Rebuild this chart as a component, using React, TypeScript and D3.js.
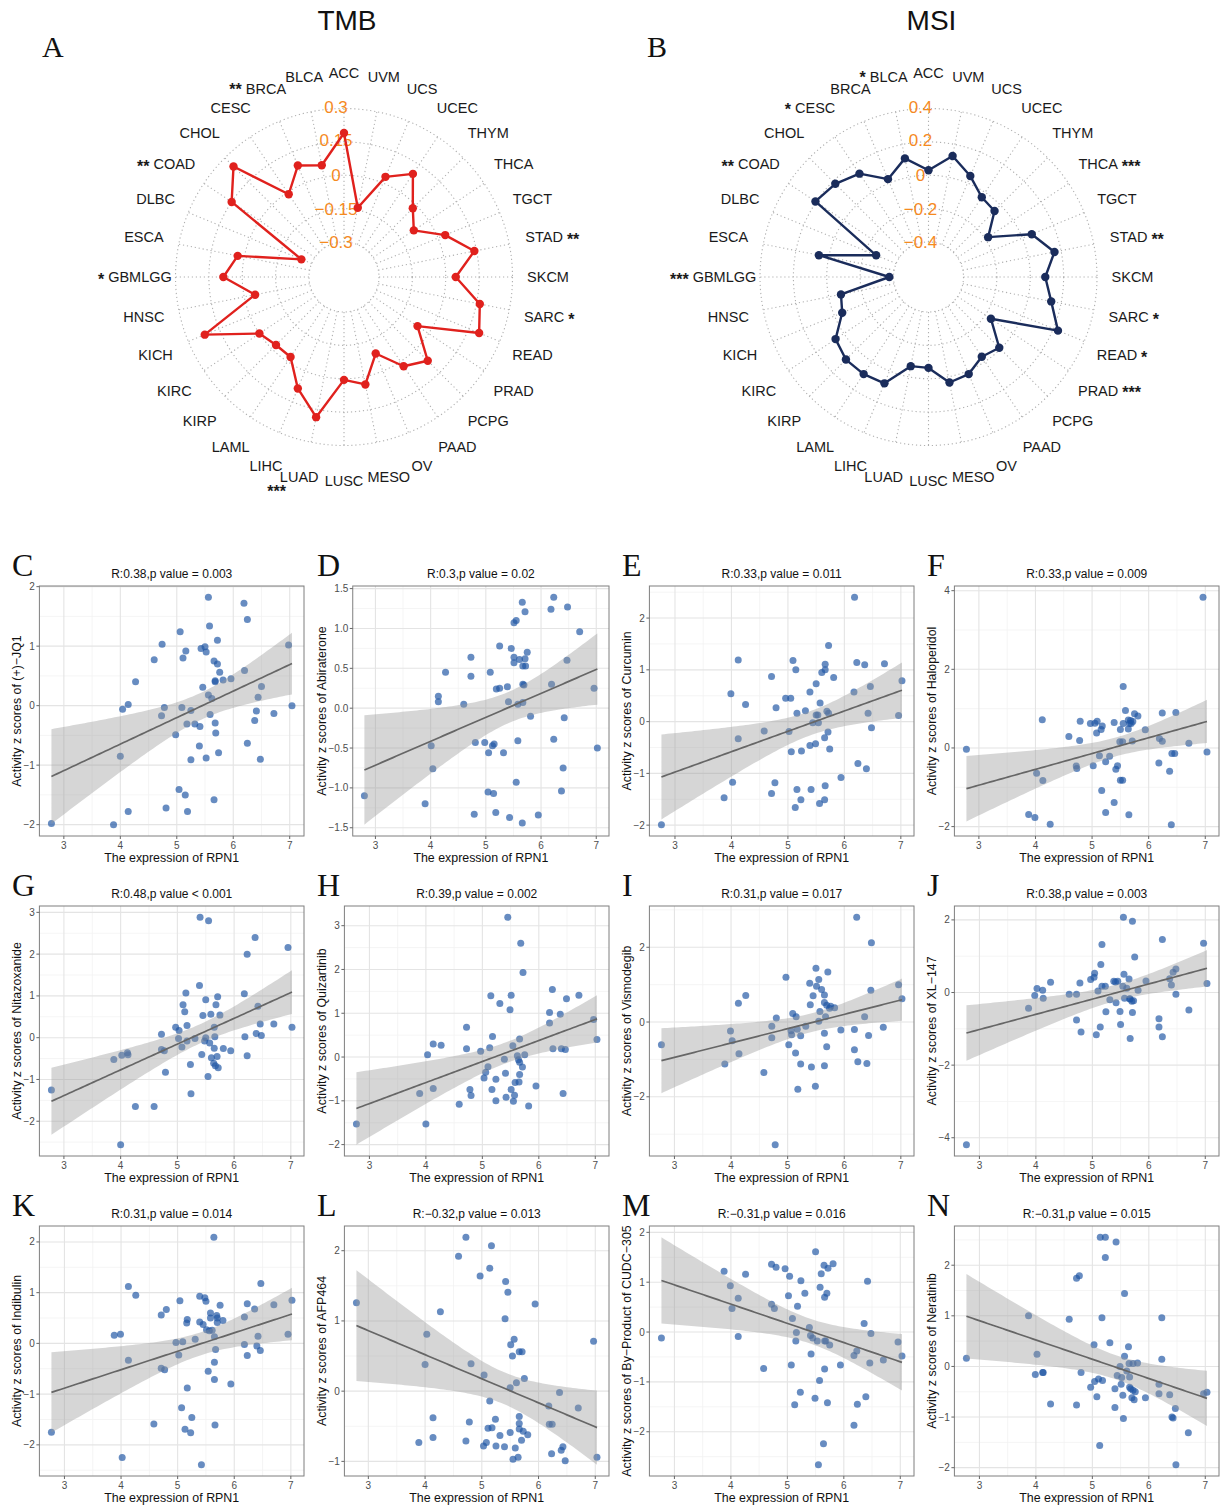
import React, { useEffect, useRef } from "react";
import * as d3 from "d3";

const SANS = '"Liberation Sans", Arial, Helvetica, sans-serif';
const SERIF = '"Liberation Serif", "Times New Roman", serif';

// ---- radar data (clockwise from top) ----
const cancers = [
  "ACC", "UVM", "UCS", "UCEC", "THYM", "THCA", "TGCT", "STAD", "SKCM", "SARC", "READ",
  "PRAD", "PCPG", "PAAD", "OV", "MESO", "LUSC", "LUAD", "LIHC", "LAML", "KIRP", "KIRC",
  "KICH", "HNSC", "GBMLGG", "ESCA", "DLBC", "COAD", "CHOL", "CESC", "BRCA", "BLCA",
];
const tmbCor = [
  0.19, -0.14, 0.03, 0.1, -0.02, -0.08, 0.035, 0.14, 0.045, 0.165, 0.2,
  -0.06, 0.075, 0.025, -0.085, 0.035, 0.005, 0.185, 0.085, -0.025, -0.025, 0.0,
  0.22, -0.05, 0.085, 0.03, -0.25, 0.15, 0.245, -0.01, 0.085, 0.055,
];
const msiCor = [
  0.03, 0.13, 0.045, -0.035, -0.05, -0.18, 0.06, 0.16, 0.09, 0.14, 0.23,
  -0.16, -0.01, -0.035, 0.02, 0.035, -0.065, -0.065, 0.08, 0.09, 0.09, 0.06,
  -0.05, -0.075, -0.375, 0.06, -0.27, 0.205, 0.18, 0.135, 0.025, 0.115,
];
const tmbSig: Record<string, string> = { BRCA: "**", COAD: "**", GBMLGG: "*", STAD: "**", SARC: "*", LUAD: "***" };
const msiSig: Record<string, string> = {
  BLCA: "*", CESC: "*", COAD: "**", GBMLGG: "***", THCA: "***", STAD: "**", SARC: "*", READ: "*", PRAD: "***",
};
const tmbTicks = [-0.3, -0.15, 0, 0.15, 0.3];
const tmbTickLabels = ["−0.3", "−0.15", "0", "0.15", "0.3"];
const msiTicks = [-0.4, -0.2, 0, 0.2, 0.4];
const msiTickLabels = ["−0.4", "−0.2", "0", "0.2", "0.4"];

// ---- scatter data: [RPN1 expression, activity z score] ----
const ptsC = [[2.78,-1.98],[3.88,-2.0],[4.0,-0.85],[4.04,-0.06],[4.14,0.02],[4.14,-1.78],[4.27,0.4],[4.6,0.77],[4.74,1.03],[4.73,-0.17],[4.78,-0.03],[4.81,-1.72],[4.98,-0.49],[5.04,-1.41],[5.06,1.24],[5.09,-0.03],[5.11,0.8],[5.15,-1.5],[5.16,0.92],[5.18,-0.31],[5.19,-1.78],[5.25,-0.08],[5.25,-0.91],[5.32,-0.31],[5.4,-0.68],[5.41,-0.35],[5.43,0.96],[5.46,0.31],[5.5,0.99],[5.52,0.9],[5.52,-0.88],[5.56,0.18],[5.56,1.82],[5.58,1.34],[5.59,-0.15],[5.62,0.12],[5.66,-1.58],[5.66,0.75],[5.68,0.42],[5.68,0.4],[5.68,-0.29],[5.69,-0.46],[5.72,0.7],[5.72,1.1],[5.74,-0.79],[5.76,0.56],[5.82,0.43],[5.96,0.45],[6.2,0.59],[6.19,1.72],[6.25,-0.63],[6.25,1.45],[6.38,-0.25],[6.41,-0.09],[6.44,0.14],[6.48,-0.9],[6.5,0.32],[6.72,-0.13],[6.98,1.02],[7.04,0.0]];
const ptsD = [[2.8,-1.1],[3.9,-1.2],[4.01,-0.47],[4.04,-0.76],[4.14,0.15],[4.14,0.08],[4.27,0.45],[4.6,0.05],[4.73,0.64],[4.73,0.4],[4.79,-1.33],[4.81,-0.43],[4.98,-0.43],[5.04,-1.05],[5.05,-0.56],[5.08,0.45],[5.12,-0.47],[5.15,-0.45],[5.14,-1.07],[5.18,-1.31],[5.19,0.24],[5.25,0.25],[5.25,0.78],[5.32,-0.56],[5.39,0.27],[5.41,0.08],[5.43,-1.37],[5.46,0.75],[5.51,0.57],[5.51,0.64],[5.51,1.07],[5.55,1.1],[5.55,-0.93],[5.58,0.05],[5.58,-0.41],[5.61,0.61],[5.66,1.33],[5.66,-1.44],[5.67,0.07],[5.67,0.53],[5.67,0.3],[5.69,0.29],[5.71,0.62],[5.72,0.53],[5.71,1.21],[5.75,0.7],[5.81,-0.1],[5.95,-1.34],[6.18,1.24],[6.19,0.3],[6.23,1.39],[6.23,-0.39],[6.37,-1.04],[6.4,-0.75],[6.42,-0.12],[6.47,0.6],[6.48,1.27],[6.7,0.96],[6.96,0.25],[7.02,-0.5]];
const ptsE = [[2.76,-1.99],[3.87,-1.47],[3.99,0.54],[4.02,-1.17],[4.12,1.19],[4.12,-0.33],[4.25,0.33],[4.58,-0.18],[4.71,0.87],[4.71,-1.39],[4.77,-1.18],[4.79,0.27],[4.96,0.45],[5.02,-0.19],[5.05,0.45],[5.06,-0.58],[5.09,1.18],[5.13,-1.66],[5.14,1.0],[5.16,0.16],[5.16,-1.31],[5.23,-1.51],[5.24,-0.57],[5.31,0.21],[5.39,-0.46],[5.39,0.57],[5.41,-1.31],[5.44,-0.02],[5.49,-0.43],[5.5,0.73],[5.5,0.13],[5.53,0.13],[5.54,-0.02],[5.56,-1.58],[5.57,0.36],[5.6,0.95],[5.65,-0.31],[5.65,-1.51],[5.66,-1.24],[5.66,1.0],[5.66,1.11],[5.69,0.2],[5.71,-0.2],[5.72,0.16],[5.72,1.47],[5.74,-0.53],[5.81,0.85],[5.94,-1.08],[6.17,0.57],[6.18,2.4],[6.22,1.14],[6.24,-0.81],[6.36,1.1],[6.39,-0.91],[6.42,0.16],[6.46,0.68],[6.48,-0.12],[6.71,1.12],[6.96,0.12],[7.02,0.79]];
const ptsF = [[2.78,-0.03],[3.88,-1.69],[3.99,-1.77],[4.02,-0.64],[4.12,0.72],[4.13,-0.83],[4.26,-1.94],[4.59,0.29],[4.72,-0.46],[4.73,-0.52],[4.78,0.19],[4.79,0.68],[4.97,0.62],[5.02,-0.45],[5.05,0.63],[5.08,0.38],[5.09,0.68],[5.13,-0.2],[5.16,0.47],[5.18,0.56],[5.17,-1.08],[5.24,-0.35],[5.24,-1.64],[5.31,-0.21],[5.39,-1.39],[5.39,0.65],[5.42,-0.54],[5.45,-0.45],[5.49,0.16],[5.5,0.47],[5.5,-0.82],[5.54,0.16],[5.54,-0.82],[5.55,0.62],[5.55,1.56],[5.59,0.95],[5.64,0.71],[5.64,0.48],[5.65,-1.7],[5.66,0.62],[5.68,0.7],[5.69,0.62],[5.71,0.18],[5.72,0.67],[5.75,0.87],[5.81,0.81],[5.94,0.46],[6.18,-0.38],[6.19,0.24],[6.24,0.17],[6.24,0.89],[6.37,-0.59],[6.4,-1.95],[6.41,-0.14],[6.46,-0.14],[6.48,0.9],[6.71,0.12],[6.96,3.83],[7.03,-0.1]];
const ptsG = [[2.78,-1.25],[3.88,-0.52],[4.02,-0.42],[4.12,-0.36],[4.13,-0.41],[4.0,-2.56],[4.26,-1.65],[4.59,-1.65],[4.72,0.08],[4.72,-0.28],[4.77,-0.31],[4.79,-0.83],[4.97,0.25],[5.02,-0.02],[5.03,0.17],[5.08,-0.22],[5.1,0.79],[5.13,0.62],[5.15,1.07],[5.17,0.29],[5.17,-0.08],[5.23,-0.64],[5.24,-1.34],[5.31,-0.02],[5.39,1.25],[5.4,2.88],[5.43,-0.4],[5.45,0.53],[5.48,-0.08],[5.5,0.91],[5.5,0.0],[5.54,-0.93],[5.55,2.8],[5.57,-0.13],[5.59,0.56],[5.6,-0.48],[5.65,0.25],[5.66,0.02],[5.65,-0.25],[5.64,-0.61],[5.67,-0.67],[5.68,0.79],[5.7,-0.45],[5.71,0.98],[5.72,-0.72],[5.75,0.54],[5.81,-0.26],[5.94,-0.31],[6.18,1.05],[6.19,0.02],[6.23,2.0],[6.23,-0.43],[6.37,2.4],[6.39,0.1],[6.42,0.75],[6.46,0.33],[6.48,0.05],[6.7,0.33],[6.95,2.16],[7.02,0.25]];
const ptsH = [[2.77,-1.53],[3.89,-0.83],[4.0,-1.53],[4.03,0.05],[4.13,0.3],[4.13,-0.72],[4.27,0.27],[4.59,-1.08],[4.72,0.68],[4.72,0.19],[4.78,-0.74],[4.8,-0.88],[4.97,0.13],[5.03,-0.48],[5.06,-0.35],[5.1,-0.22],[5.13,0.21],[5.15,1.4],[5.17,-0.74],[5.18,0.47],[5.24,-0.51],[5.24,-1.0],[5.31,1.22],[5.39,-0.05],[5.41,-0.37],[5.42,-0.92],[5.45,3.19],[5.49,1.08],[5.51,1.41],[5.51,-0.74],[5.54,0.26],[5.55,-1.01],[5.57,-0.87],[5.58,-0.58],[5.62,0.03],[5.64,-0.06],[5.66,0.41],[5.66,-0.4],[5.65,-0.57],[5.66,-0.12],[5.68,2.6],[5.72,1.93],[5.71,-0.23],[5.75,0.05],[5.82,-1.12],[5.95,-0.66],[6.19,0.78],[6.19,1.02],[6.24,1.54],[6.25,0.19],[6.38,0.98],[6.4,0.19],[6.43,-0.83],[6.47,0.17],[6.49,1.33],[6.71,1.41],[6.97,0.86],[7.03,0.4]];
const ptsI = [[2.77,-0.61],[3.89,-1.12],[3.99,-0.24],[4.02,-0.5],[4.13,0.5],[4.14,-0.85],[4.26,0.71],[4.58,-1.35],[4.72,-0.11],[4.72,-0.42],[4.8,0.11],[4.78,-3.28],[4.97,1.2],[5.02,-0.61],[5.06,-0.23],[5.07,-0.34],[5.09,0.23],[5.14,-0.83],[5.15,0.14],[5.17,-0.19],[5.18,-1.8],[5.23,-1.12],[5.23,-0.37],[5.32,-0.11],[5.39,1.04],[5.4,0.46],[5.42,-1.2],[5.45,0.7],[5.49,-1.72],[5.5,1.44],[5.51,0.96],[5.55,1.14],[5.55,0.02],[5.57,0.28],[5.6,0.87],[5.65,0.72],[5.65,0.52],[5.65,-0.3],[5.65,-1.17],[5.67,0.14],[5.69,-0.66],[5.69,0.45],[5.71,1.34],[5.74,0.37],[5.76,0.42],[5.83,0.38],[5.94,-0.21],[6.18,-0.2],[6.18,-0.74],[6.22,2.8],[6.24,-1.06],[6.36,0.14],[6.4,-1.11],[6.43,-0.36],[6.47,0.85],[6.48,2.12],[6.69,-0.14],[6.96,1.0],[7.02,0.62]];
const ptsJ = [[2.77,-4.19],[3.87,-0.43],[3.98,-0.08],[4.02,0.11],[4.12,0.06],[4.13,-0.16],[4.26,0.28],[4.59,-0.05],[4.72,-0.05],[4.72,-0.76],[4.78,0.26],[4.8,-1.09],[4.97,0.36],[5.03,0.42],[5.04,0.53],[5.07,-1.16],[5.1,0.04],[5.14,-0.95],[5.15,0.77],[5.17,1.32],[5.17,0.17],[5.23,0.17],[5.24,-0.53],[5.31,-0.2],[5.38,0.31],[5.41,0.29],[5.42,-0.28],[5.45,0.31],[5.49,-0.52],[5.5,-0.88],[5.54,0.17],[5.56,0.5],[5.55,2.07],[5.57,-0.16],[5.61,0.12],[5.65,0.37],[5.66,-0.17],[5.67,-1.27],[5.67,-0.18],[5.7,-0.24],[5.71,1.96],[5.71,-0.55],[5.73,-0.23],[5.75,0.98],[5.81,0.06],[5.95,0.32],[6.18,-0.72],[6.18,-0.95],[6.24,-1.22],[6.24,1.46],[6.37,0.38],[6.4,0.21],[6.43,0.56],[6.48,-0.05],[6.48,0.65],[6.71,-0.48],[6.97,1.36],[7.03,0.25]];
const ptsK = [[2.77,-1.75],[3.88,0.16],[3.99,0.18],[4.02,-2.25],[4.13,1.12],[4.13,-0.33],[4.26,0.95],[4.58,-1.59],[4.71,0.56],[4.71,-0.49],[4.77,-0.52],[4.8,0.67],[4.97,0.02],[5.02,-0.23],[5.04,0.84],[5.07,-1.27],[5.09,0.03],[5.13,-1.69],[5.16,0.4],[5.17,0.47],[5.17,-0.88],[5.23,-1.76],[5.25,-1.46],[5.31,0.08],[5.39,0.42],[5.39,0.93],[5.42,-2.39],[5.45,0.37],[5.48,0.9],[5.5,0.83],[5.51,0.27],[5.54,-0.55],[5.56,0.25],[5.58,0.6],[5.58,0.5],[5.61,0.26],[5.64,2.09],[5.65,0.13],[5.65,-0.37],[5.65,-0.71],[5.66,-1.61],[5.67,-0.12],[5.69,0.55],[5.7,0.5],[5.7,0.41],[5.75,0.75],[5.8,0.45],[5.94,-0.8],[6.18,0.52],[6.18,-0.02],[6.23,0.78],[6.23,-0.24],[6.36,0.68],[6.4,-0.05],[6.42,0.14],[6.46,-0.14],[6.47,1.18],[6.7,0.76],[6.95,0.18],[7.02,0.85]];
const ptsL = [[2.79,1.26],[3.89,-0.73],[4.0,0.38],[4.03,0.81],[4.14,-0.38],[4.14,-0.66],[4.27,1.13],[4.59,1.92],[4.72,2.19],[4.72,-0.71],[4.78,-0.44],[4.81,0.39],[4.97,1.64],[5.04,0.23],[5.03,-0.78],[5.08,-0.73],[5.11,-0.53],[5.14,1.75],[5.14,-0.14],[5.17,2.07],[5.18,-0.52],[5.24,-0.4],[5.25,-0.78],[5.32,-0.63],[5.41,1.03],[5.42,1.56],[5.4,-0.79],[5.46,1.41],[5.5,-0.59],[5.5,0.05],[5.51,0.66],[5.54,0.5],[5.55,-0.97],[5.57,0.74],[5.59,-0.81],[5.61,0.12],[5.66,0.56],[5.66,-0.36],[5.66,-0.46],[5.66,-0.54],[5.64,-0.94],[5.7,-0.7],[5.71,0.56],[5.73,-0.57],[5.75,0.18],[5.81,-0.62],[5.94,1.24],[6.18,-0.21],[6.19,-0.47],[6.24,-0.47],[6.23,-0.89],[6.37,-0.02],[6.4,-0.84],[6.43,-0.79],[6.47,-0.99],[6.7,-0.24],[6.97,0.71],[7.03,-0.94]];
const ptsM = [[2.77,-0.12],[3.88,1.22],[3.99,0.93],[4.02,0.47],[4.13,0.68],[4.13,-0.09],[4.26,1.16],[4.58,-0.73],[4.72,1.36],[4.72,0.56],[4.77,0.47],[4.8,1.3],[4.96,1.27],[5.02,0.73],[5.04,1.12],[5.07,-0.66],[5.09,0.27],[5.13,-1.46],[5.15,-0.18],[5.16,-0.01],[5.18,0.52],[5.23,-1.21],[5.24,1.03],[5.31,0.78],[5.39,0.09],[5.41,-0.07],[5.42,-0.44],[5.45,-0.12],[5.49,-1.33],[5.5,1.61],[5.53,-0.18],[5.57,-0.97],[5.58,0.9],[5.6,1.17],[5.64,-2.24],[5.65,1.34],[5.66,0.7],[5.66,-0.18],[5.66,-0.74],[5.68,-0.18],[5.7,0.78],[5.71,-1.42],[5.72,1.28],[5.55,-2.66],[5.75,-0.26],[5.81,1.37],[5.94,-0.66],[6.18,-0.47],[6.18,-1.87],[6.23,-0.38],[6.24,-1.45],[6.36,0.17],[6.39,-1.3],[6.42,1.02],[6.46,-0.62],[6.48,-0.03],[6.7,-0.56],[6.96,-0.2],[7.03,-0.48]];
const ptsN = [[2.77,0.16],[3.87,1.0],[3.99,-0.16],[4.02,0.24],[4.12,-0.12],[4.13,-0.12],[4.26,-0.74],[4.59,0.93],[4.72,1.74],[4.77,1.79],[4.72,-0.76],[4.8,-0.12],[4.97,-0.41],[5.03,0.43],[5.04,-0.3],[5.08,-0.6],[5.11,-0.25],[5.13,-1.56],[5.14,2.55],[5.17,0.96],[5.18,-0.28],[5.23,2.55],[5.23,2.15],[5.31,0.47],[5.4,-0.44],[5.4,-0.81],[5.42,2.46],[5.44,-0.18],[5.49,0.0],[5.51,-0.35],[5.52,-0.22],[5.54,-0.57],[5.55,-1.03],[5.57,1.44],[5.57,0.2],[5.61,-0.09],[5.64,0.39],[5.65,0.06],[5.66,-0.21],[5.66,-0.41],[5.68,-0.44],[5.7,-0.62],[5.72,0.06],[5.72,-0.47],[5.74,-0.66],[5.76,-0.5],[5.8,0.07],[5.94,-0.62],[6.18,-0.35],[6.18,-0.54],[6.23,0.96],[6.23,0.14],[6.37,-0.56],[6.41,-1.0],[6.43,-1.02],[6.47,-0.83],[6.48,-1.94],[6.7,-1.31],[6.97,-0.54],[7.03,-0.51]];

const panelLetters = ["C", "D", "E", "F", "G", "H", "I", "J", "K", "L", "M", "N"];
const drugNames = [
  "(+)−JQ1", "Abiraterone", "Curcumin", "Haloperidol", "Nitazoxanide", "Quizartinib",
  "Vismodegib", "XL−147", "Indibulin", "AFP464", "By−Product of CUDC−305", "Neratinib",
];
const statLabels = [
  "R:0.38,p value = 0.003", "R:0.3,p value = 0.02", "R:0.33,p value = 0.011", "R:0.33,p value = 0.009",
  "R:0.48,p value < 0.001", "R:0.39,p value = 0.002", "R:0.31,p value = 0.017", "R:0.38,p value = 0.003",
  "R:0.31,p value = 0.014", "R:−0.32,p value = 0.013", "R:−0.31,p value = 0.016", "R:−0.31,p value = 0.015",
];
const yTickSets = [
  [-2, -1, 0, 1, 2], [-1.5, -1, -0.5, 0, 0.5, 1, 1.5], [-2, -1, 0, 1, 2], [-2, 0, 2, 4],
  [-2, -1, 0, 1, 2, 3], [-2, -1, 0, 1, 2, 3], [-2, 0, 2], [-4, -2, 0, 2],
  [-2, -1, 0, 1, 2], [-1, 0, 1, 2], [-2, -1, 0, 1, 2], [-2, -1, 0, 1, 2],
];
const xTicks = [3, 4, 5, 6, 7];
const allPts = [ptsC, ptsD, ptsE, ptsF, ptsG, ptsH, ptsI, ptsJ, ptsK, ptsL, ptsM, ptsN];

const colX = [0, 305, 610, 915];
const rowY = [573, 893, 1213];

const measureCtx = document.createElement("canvas").getContext("2d");
const textW = (s: string, size: number) => {
  if (!measureCtx) return s.length * size * 0.55;
  measureCtx.font = `${size}px ${SANS}`;
  return measureCtx.measureText(s).width;
};

function drawRadar(svg: any, cx: number, cy: number, values: number[], sig: Record<string, string>,
  ticks: number[], tickLabels: string[], color: string, title: string, letter: string, letterX: number) {
  const g = svg.append("g");
  const r = d3.scaleLinear().domain([ticks[0], ticks[ticks.length - 1]]).range([35, 168.5]);
  const n = cancers.length;
  const ang = (i: number) => (i / n) * 2 * Math.PI;

  // rings and spokes
  ticks.forEach((t) => {
    g.append("circle").attr("cx", cx).attr("cy", cy).attr("r", r(t))
      .attr("fill", "none").attr("stroke", "#b0b0b0").attr("stroke-width", 1.1)
      .attr("stroke-dasharray", "1.2,2.8");
  });
  cancers.forEach((_, i) => {
    const a = ang(i);
    g.append("line")
      .attr("x1", cx + r(ticks[0]) * Math.sin(a)).attr("y1", cy - r(ticks[0]) * Math.cos(a))
      .attr("x2", cx + r(ticks[ticks.length - 1]) * Math.sin(a)).attr("y2", cy - r(ticks[ticks.length - 1]) * Math.cos(a))
      .attr("stroke", "#b0b0b0").attr("stroke-width", 1.1).attr("stroke-dasharray", "1.2,2.8");
  });

  // radial tick labels
  ticks.forEach((t, k) => {
    g.append("text").attr("x", cx - 8).attr("y", cy - r(t) - (t > 0 ? 2 : 0)).attr("dy", "0.36em")
      .attr("text-anchor", "middle").attr("font-family", SANS).attr("font-size", 17)
      .attr("fill", "#F58A1F").text(tickLabels[k]);
  });

  // polygon
  const line = d3.lineRadial<number>().angle((_, i) => ang(i)).radius((d) => r(d)).curve(d3.curveLinearClosed);
  g.append("path").attr("transform", `translate(${cx},${cy})`).attr("d", line(values))
    .attr("fill", "none").attr("stroke", color).attr("stroke-width", 2.4).attr("stroke-linejoin", "round");
  g.selectAll(".pt").data(values).enter().append("circle")
    .attr("cx", (d: number, i: number) => cx + r(d) * Math.sin(ang(i)))
    .attr("cy", (d: number, i: number) => cy - r(d) * Math.cos(ang(i)))
    .attr("r", 4.2).attr("fill", color);

  // category labels
  cancers.forEach((c, i) => {
    const a = ang(i);
    const sa = Math.sin(a);
    const ca = Math.cos(a);
    // the labels next to the bottom one are pushed aside a little
    const nudge = ca < -0.95 && Math.abs(sa) > 0.1 ? Math.sign(sa) * 5 : 0;
    const lx = cx + 204 * sa + nudge;
    const ly = cy - 204 * ca;
    g.append("text").attr("x", lx).attr("y", ly).attr("dy", "0.36em").attr("text-anchor", "middle")
      .attr("font-family", SANS).attr("font-size", 14.5).attr("fill", "#1a1a1a").text(c);
    const s = sig[c];
    if (!s) return;
    const w = textW(c, 14.5);
    const st = g.append("text").attr("font-family", SANS).attr("font-size", 16).attr("fill", "#1a1a1a")
      .attr("font-weight", "bold").text(s);
    if (ca < -0.9) {
      st.attr("x", lx - w / 2 + 6).attr("y", ly + 12).attr("dy", "0.5em").attr("text-anchor", "end");
    } else if (sa < 0) {
      st.attr("x", lx - w / 2 - 4).attr("y", ly - (ca > 0.9 ? 2 : 0)).attr("dy", "0.5em").attr("text-anchor", "end");
    } else {
      st.attr("x", lx + w / 2 + 4).attr("y", ly).attr("dy", "0.5em").attr("text-anchor", "start");
    }
  });

  svg.append("text").attr("x", cx + 3).attr("y", 30).attr("text-anchor", "middle")
    .attr("font-family", SANS).attr("font-size", 28).attr("fill", "#111").text(title);
  svg.append("text").attr("x", letterX).attr("y", 57).attr("font-family", SERIF)
    .attr("font-size", 30).attr("fill", "#111").text(letter);
}

function drawScatter(svg: any, idx: number) {
  const pts = allPts[idx];
  const yTicks = yTickSets[idx];
  const x0 = colX[idx % 4];
  const ry = rowY[Math.floor(idx / 4)];
  const top = ry + 13;
  const bottom = ry + 263;
  const dec = yTicks.some((t) => !Number.isInteger(t)) ? 1 : 0;
  const fmt = (v: number) => v.toFixed(dec).replace("-", "−");
  const labW = d3.max(yTicks, (t) => textW(fmt(t), 10)) || 10;
  const left = x0 + 28 + labW;
  const right = x0 + 304;

  // linear fit with 95% confidence band
  const n = pts.length;
  const mx = d3.mean(pts, (d) => d[0]) as number;
  const my = d3.mean(pts, (d) => d[1]) as number;
  const sxx = d3.sum(pts, (d) => (d[0] - mx) ** 2);
  const sxy = d3.sum(pts, (d) => (d[0] - mx) * (d[1] - my));
  const b = sxy / sxx;
  const a = my - b * mx;
  const s = Math.sqrt(d3.sum(pts, (d) => (d[1] - a - b * d[0]) ** 2) / (n - 2));
  const tq = 2.0;
  const [xmin, xmax] = d3.extent(pts, (d) => d[0]) as [number, number];
  const band = d3.range(81).map((k) => {
    const x = xmin + ((xmax - xmin) * k) / 80;
    const yh = a + b * x;
    const se = s * Math.sqrt(1 / n + (x - mx) ** 2 / sxx);
    return { x, y: yh, lo: yh - tq * se, hi: yh + tq * se };
  });
  const ylo = Math.min(d3.min(pts, (d) => d[1]) as number, d3.min(band, (d) => d.lo) as number);
  const yhi = Math.max(d3.max(pts, (d) => d[1]) as number, d3.max(band, (d) => d.hi) as number);
  const xs = d3.scaleLinear().domain([xmin - 0.05 * (xmax - xmin), xmax + 0.05 * (xmax - xmin)]).range([left, right]);
  const ys = d3.scaleLinear().domain([ylo - 0.05 * (yhi - ylo), yhi + 0.05 * (yhi - ylo)]).range([bottom, top]);

  const g = svg.append("g");
  g.append("rect").attr("x", left).attr("y", top).attr("width", right - left).attr("height", bottom - top).attr("fill", "#fff");

  // grid
  const [xd0, xd1] = xs.domain();
  const [yd0, yd1] = ys.domain();
  const xMinor = xTicks.slice(0, -1).map((t, i) => (t + xTicks[i + 1]) / 2)
    .concat([xTicks[0] - 0.5, xTicks[xTicks.length - 1] + 0.5]).filter((v) => v > xd0 && v < xd1);
  const ystep = yTicks[1] - yTicks[0];
  const yMinor = d3.range(yTicks[0] - ystep / 2, yTicks[yTicks.length - 1] + ystep, ystep).filter((v) => v > yd0 && v < yd1);
  xMinor.forEach((v) => g.append("line").attr("x1", xs(v)).attr("x2", xs(v)).attr("y1", top).attr("y2", bottom).attr("stroke", "#f2f2f2").attr("stroke-width", 0.8));
  yMinor.forEach((v) => g.append("line").attr("x1", left).attr("x2", right).attr("y1", ys(v)).attr("y2", ys(v)).attr("stroke", "#f2f2f2").attr("stroke-width", 0.8));
  xTicks.forEach((v) => g.append("line").attr("x1", xs(v)).attr("x2", xs(v)).attr("y1", top).attr("y2", bottom).attr("stroke", "#e4e4e4").attr("stroke-width", 1.1));
  yTicks.forEach((v) => g.append("line").attr("x1", left).attr("x2", right).attr("y1", ys(v)).attr("y2", ys(v)).attr("stroke", "#e4e4e4").attr("stroke-width", 1.1));

  // points
  g.selectAll(".dot").data(pts).enter().append("circle")
    .attr("cx", (d: number[]) => xs(d[0])).attr("cy", (d: number[]) => ys(d[1]))
    .attr("r", 3.5).attr("fill", "#1f55a3").attr("fill-opacity", 0.68);

  // smooth band + line
  const area = d3.area<any>().x((d) => xs(d.x)).y0((d) => ys(d.lo)).y1((d) => ys(d.hi));
  g.append("path").attr("d", area(band)).attr("fill", "#999999").attr("fill-opacity", 0.4);
  const fit = d3.line<any>().x((d) => xs(d.x)).y((d) => ys(d.y));
  g.append("path").attr("d", fit(band)).attr("fill", "none").attr("stroke", "#666666").attr("stroke-width", 1.7);

  // border and ticks
  g.append("rect").attr("x", left).attr("y", top).attr("width", right - left).attr("height", bottom - top)
    .attr("fill", "none").attr("stroke", "#7f7f7f").attr("stroke-width", 1);
  xTicks.forEach((v) => {
    g.append("line").attr("x1", xs(v)).attr("x2", xs(v)).attr("y1", bottom).attr("y2", bottom + 3).attr("stroke", "#666");
    g.append("text").attr("x", xs(v)).attr("y", bottom + 12.5).attr("text-anchor", "middle")
      .attr("font-family", SANS).attr("font-size", 10).attr("fill", "#4d4d4d").text(String(v));
  });
  yTicks.forEach((v) => {
    g.append("line").attr("x1", left - 3).attr("x2", left).attr("y1", ys(v)).attr("y2", ys(v)).attr("stroke", "#666");
    g.append("text").attr("x", left - 4.5).attr("y", ys(v)).attr("dy", "0.35em").attr("text-anchor", "end")
      .attr("font-family", SANS).attr("font-size", 10).attr("fill", "#4d4d4d").text(fmt(v));
  });

  // titles
  g.append("text").attr("x", (left + right) / 2).attr("y", ry + 4.5).attr("text-anchor", "middle")
    .attr("font-family", SANS).attr("font-size", 12).attr("fill", "#111").text(statLabels[idx]);
  g.append("text").attr("x", (left + right) / 2).attr("y", bottom + 25.5).attr("text-anchor", "middle")
    .attr("font-family", SANS).attr("font-size", 12.4).attr("fill", "#111").text("The expression of RPN1");
  g.append("text").attr("transform", `translate(${x0 + 21},${(top + bottom) / 2}) rotate(-90)`)
    .attr("text-anchor", "middle").attr("font-family", SANS).attr("font-size", 12.4).attr("fill", "#111")
    .text(`Activity z scores of ${drugNames[idx]}`);
  g.append("text").attr("x", x0 + 12).attr("y", ry + 3).attr("font-family", SERIF)
    .attr("font-size", 32).attr("fill", "#111").text(panelLetters[idx]);
}

const App = () => {
  const ref = useRef<SVGSVGElement>(null);

  useEffect(() => {
    if (!ref.current) return;
    const svg = d3.select(ref.current);
    svg.selectAll("*").remove();
    svg.append("rect").attr("width", 1231).attr("height", 1507).attr("fill", "#fff");

    drawRadar(svg, 344, 277, tmbCor, tmbSig, tmbTicks, tmbTickLabels, "#E0211D", "TMB", "A", 42);
    drawRadar(svg, 928.5, 277, msiCor, msiSig, msiTicks, msiTickLabels, "#1A2C5B", "MSI", "B", 647);

    allPts.forEach((_, i) => drawScatter(svg, i));
  }, []);

  return (
    <svg ref={ref} width={1231} height={1507}
      style={{ position: "absolute", left: 0, top: 0, background: "#fff" }} />
  );
};

export default App;
